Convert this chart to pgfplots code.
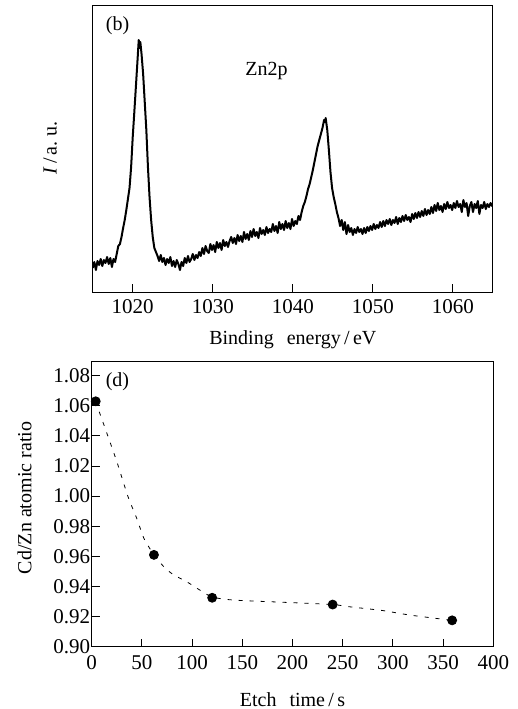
\documentclass[border=0pt]{standalone}
\usepackage{fontspec}
\setmainfont{Liberation Serif}
\usepackage{pgfplots}
\pgfplotsset{compat=1.18}
\begin{document}
\begin{tikzpicture}
\useasboundingbox (-46.35pt,-208.5pt) rectangle (212.65pt,146pt);
% ---------------- top: XPS Zn2p ----------------
\begin{axis}[
  at={(0pt,0pt)}, anchor=south west,
  scale only axis, width=200.15pt, height=143.5pt,
  xmin=1015, xmax=1065, ymin=0, ymax=287,
  xtick={1020,1030,1040,1050,1060},
  ytick=\empty,
  xtick pos=bottom, tick align=inside, major tick length=4pt,
  axis line style={line width=0.5pt}, every tick/.style={line width=0.5pt,black},
  /pgf/number format/assume math mode=true,
  /pgf/number format/1000 sep={},
  xticklabel style={font=\fontsize{10.5}{12}\selectfont},
  xlabel={Binding\hspace{0.65em}energy\,/\,eV},
  ylabel={\textit{I}\,/\,a.\ u.},
  xlabel style={at={(axis description cs:0.5,-0.167)}, anchor=center},
  ylabel style={at={(axis description cs:-0.1065,0.502)}, anchor=center},
  clip=true,
]
\addplot[black, line width=1pt, line join=round] coordinates {
(1015.0,24)(1015.2,30)(1015.4,22)(1015.6,31)(1015.8,27)(1016.0,33)(1016.2,26)(1016.4,32)
(1016.6,29)(1016.8,35)(1017.0,28)(1017.2,34)(1017.4,25)(1017.6,33)(1017.8,30)(1018.0,38)
(1018.2,46)(1018.4,48)(1018.6,55)(1018.8,64)(1019.0,72)(1019.2,82)(1019.4,93)(1019.6,104)
(1019.8,125)(1020.0,155)(1020.2,180)(1020.4,206)(1020.6,232)(1020.75,252)(1020.85,244)(1020.95,250)
(1021.1,238)(1021.3,218)(1021.5,190)(1021.7,162)(1021.9,125)(1022.1,95)(1022.3,72)(1022.5,55)
(1022.7,44)(1022.9,40)(1023.1,36)(1023.3,31)(1023.5,37)(1023.7,30)(1023.9,34)(1024.1,27)
(1024.3,33)(1024.5,29)(1024.7,35)(1024.9,26)(1025.1,31)(1025.3,25)(1025.5,32)(1025.7,28)
(1025.9,22)(1026.1,30)(1026.3,26)(1026.5,34)(1026.7,29)(1026.9,36)(1027.1,30)(1027.3,33)
(1027.5,38)(1027.7,32)(1027.9,37)(1028.1,34)(1028.3,40)(1028.5,36)(1028.7,44)(1028.9,38)
(1029.1,46)(1029.3,41)(1029.5,39)(1029.7,48)(1029.9,42)(1030.1,47)(1030.3,40)(1030.5,50)
(1030.7,44)(1030.9,49)(1031.1,42)(1031.3,52)(1031.5,46)(1031.7,50)(1031.9,45)(1032.1,51)
(1032.3,55)(1032.5,49)(1032.7,54)(1032.9,48)(1033.1,57)(1033.3,51)(1033.5,56)(1033.7,50)
(1033.9,60)(1034.1,53)(1034.3,58)(1034.5,52)(1034.7,61)(1034.9,55)(1035.1,63)(1035.3,56)
(1035.5,60)(1035.7,54)(1035.9,64)(1036.1,58)(1036.3,62)(1036.5,57)(1036.7,65)(1036.9,59)
(1037.1,63)(1037.3,60)(1037.5,68)(1037.7,61)(1037.9,66)(1038.1,59)(1038.3,70)(1038.5,63)
(1038.7,68)(1038.9,62)(1039.1,71)(1039.3,64)(1039.5,69)(1039.7,63)(1039.9,73)(1040.1,66)
(1040.3,71)(1040.5,68)(1040.7,76)(1040.9,72)(1041.1,80)(1041.3,86)(1041.5,90)(1041.7,96)
(1041.9,103)(1042.1,108)(1042.3,115)(1042.5,122)(1042.7,130)(1042.9,138)(1043.1,146)(1043.3,152)
(1043.5,158)(1043.7,164)(1043.9,172)(1044.0,170)(1044.1,174)(1044.3,162)(1044.5,142)(1044.7,120)
(1044.9,104)(1045.1,95)(1045.3,88)(1045.5,80)(1045.7,74)(1045.9,66)(1046.1,72)(1046.3,62)
(1046.5,70)(1046.7,58)(1046.9,67)(1047.1,60)(1047.3,64)(1047.5,57)(1047.7,63)(1047.9,59)
(1048.1,65)(1048.3,60)(1048.5,63)(1048.7,58)(1048.9,64)(1049.1,59)(1049.3,65)(1049.5,61)
(1049.7,66)(1049.9,62)(1050.1,68)(1050.3,63)(1050.5,67)(1050.7,64)(1050.9,70)(1051.1,65)
(1051.3,71)(1051.5,66)(1051.7,72)(1051.9,68)(1052.1,73)(1052.3,67)(1052.5,72)(1052.7,69)
(1052.9,75)(1053.1,68)(1053.3,74)(1053.5,70)(1053.7,76)(1053.9,71)(1054.1,77)(1054.3,72)
(1054.5,75)(1054.7,70)(1054.9,78)(1055.1,73)(1055.3,79)(1055.5,74)(1055.7,80)(1055.9,75)
(1056.1,81)(1056.3,76)(1056.5,83)(1056.7,77)(1056.9,82)(1057.1,78)(1057.3,85)(1057.5,79)
(1057.7,87)(1057.9,81)(1058.1,89)(1058.3,82)(1058.5,86)(1058.7,80)(1058.9,88)(1059.1,83)
(1059.3,90)(1059.5,84)(1059.7,87)(1059.9,82)(1060.1,89)(1060.3,84)(1060.5,91)(1060.7,85)
(1060.9,88)(1061.1,80)(1061.3,92)(1061.5,85)(1061.7,89)(1061.9,76)(1062.1,86)(1062.3,90)
(1062.5,80)(1062.7,88)(1062.9,84)(1063.1,91)(1063.3,78)(1063.5,87)(1063.7,84)(1063.9,90)
(1064.1,83)(1064.3,88)(1064.5,85)(1064.7,89)(1064.9,86)(1065.0,87)
};
\node at (axis cs:1018.1,266.5) {(b)};
\node at (axis cs:1036.7,220.5) {Zn2p};
\end{axis}
% ---------------- bottom: Cd/Zn ratio ----------------
\begin{axis}[
  at={(-0.5pt,-177.35pt)}, anchor=south west,
  scale only axis, width=200.8pt, height=142.5pt,
  xmin=0, xmax=400, ymin=0.90, ymax=1.0893,
  xtick={0,50,...,400},
  ytick={0.90,0.92,...,1.081},
  xtick pos=bottom, ytick pos=left,
  tick align=inside, major tick length=4pt,
  axis line style={line width=0.5pt}, every tick/.style={line width=0.5pt,black},
  /pgf/number format/assume math mode=true,
  yticklabel style={inner xsep=0.6pt, font=\fontsize{10.5}{12}\selectfont, /pgf/number format/.cd, fixed, fixed zerofill, precision=2},
  xticklabel style={yshift=-1pt, font=\fontsize{10.5}{12}\selectfont},
  xlabel={Etch\hspace{0.65em}time\,/\,s},
  ylabel={Cd/Zn atomic ratio},
  xlabel style={at={(axis description cs:0.5,-0.186)}, anchor=center},
  ylabel style={at={(axis description cs:-0.167,0.522)}, anchor=center},
]
\addplot[black, line width=0.4pt, dash pattern=on 2pt off 3.5pt, smooth, tension=0.4] coordinates {
(4,1.063)(7,1.057)(15,1.042)(25,1.023)(36,1.000)(45,0.985)(52,0.972)(62,0.961)
(72,0.953)(81,0.948)(95,0.943)(108,0.9375)(120,0.933)(141,0.931)(191,0.9295)
(240,0.928)(257,0.9265)(290,0.924)(317,0.921)(359,0.9175)
};
\addplot[only marks, mark=*, mark size=2.25pt, black] coordinates {
(4,1.063)(62,0.961)(120,0.9325)(240,0.928)(359,0.9175)
};
\node at (axis cs:25.7,1.0762) {(d)};
\end{axis}
\end{tikzpicture}
\end{document}
